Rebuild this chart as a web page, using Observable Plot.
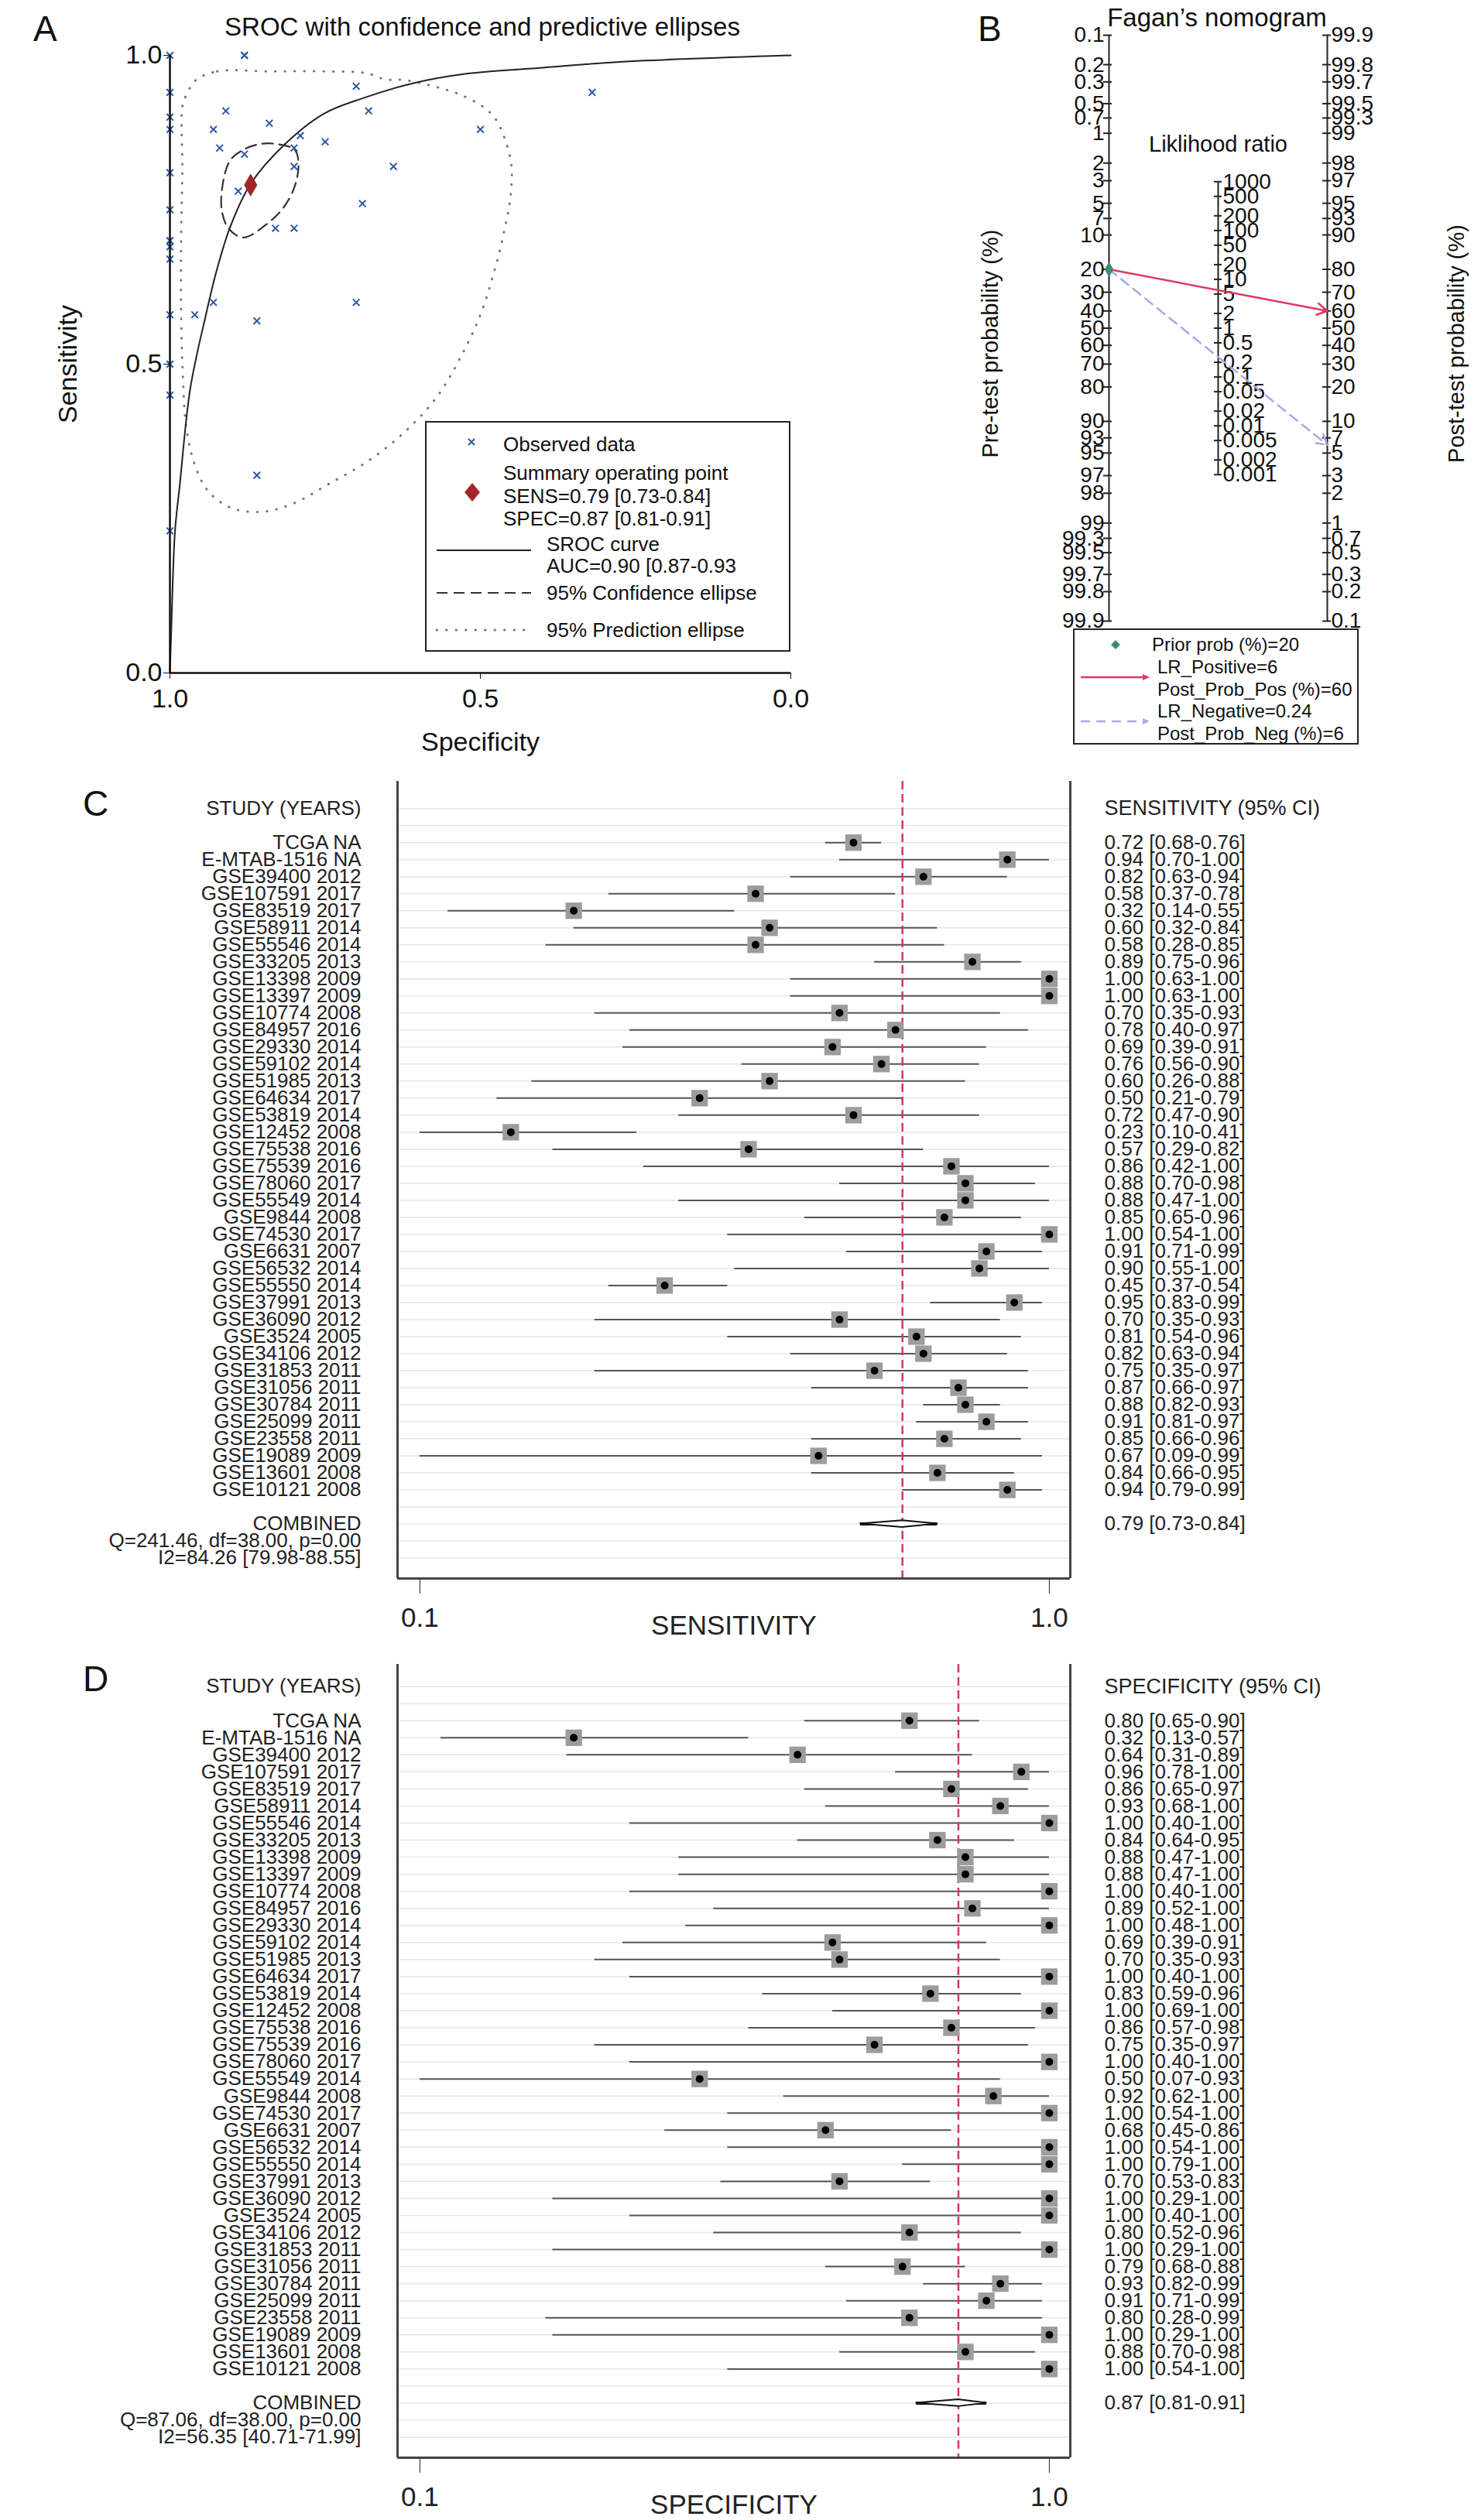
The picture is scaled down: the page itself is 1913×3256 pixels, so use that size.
<!DOCTYPE html>
<html><head><meta charset="utf-8">
<script src="https://cdn.jsdelivr.net/npm/d3@7"></script>
<script src="https://cdn.jsdelivr.net/npm/@observablehq/plot@0.6"></script>
<style>
body{margin:0;background:#fff;}
#page{position:relative;width:1913px;height:3256px;font-family:"Liberation Sans",Arial,Helvetica,sans-serif;color:#111;overflow:hidden;background:#fff}
.abs{position:absolute;white-space:nowrap;line-height:1}
svg{position:absolute;overflow:visible}
</style></head><body><div id="page"></div>
<script>
// ---------------- DATA ----------------
const studies = ["TCGA NA","E-MTAB-1516 NA","GSE39400 2012","GSE107591 2017","GSE83519 2017","GSE58911 2014","GSE55546 2014","GSE33205 2013","GSE13398 2009","GSE13397 2009","GSE10774 2008","GSE84957 2016","GSE29330 2014","GSE59102 2014","GSE51985 2013","GSE64634 2017","GSE53819 2014","GSE12452 2008","GSE75538 2016","GSE75539 2016","GSE78060 2017","GSE55549 2014","GSE9844 2008","GSE74530 2017","GSE6631 2007","GSE56532 2014","GSE55550 2014","GSE37991 2013","GSE36090 2012","GSE3524 2005","GSE34106 2012","GSE31853 2011","GSE31056 2011","GSE30784 2011","GSE25099 2011","GSE23558 2011","GSE19089 2009","GSE13601 2008","GSE10121 2008"];
const sens   = [0.72,0.94,0.82,0.58,0.32,0.60,0.58,0.89,1.00,1.00,0.70,0.78,0.69,0.76,0.60,0.50,0.72,0.23,0.57,0.86,0.88,0.88,0.85,1.00,0.91,0.90,0.45,0.95,0.70,0.81,0.82,0.75,0.87,0.88,0.91,0.85,0.67,0.84,0.94];
const sensLo = [0.68,0.70,0.63,0.37,0.14,0.32,0.28,0.75,0.63,0.63,0.35,0.40,0.39,0.56,0.26,0.21,0.47,0.10,0.29,0.42,0.70,0.47,0.65,0.54,0.71,0.55,0.37,0.83,0.35,0.54,0.63,0.35,0.66,0.82,0.81,0.66,0.09,0.66,0.79];
const sensHi = [0.76,1.00,0.94,0.78,0.55,0.84,0.85,0.96,1.00,1.00,0.93,0.97,0.91,0.90,0.88,0.79,0.90,0.41,0.82,1.00,0.98,1.00,0.96,1.00,0.99,1.00,0.54,0.99,0.93,0.96,0.94,0.97,0.97,0.93,0.97,0.96,0.99,0.95,0.99];
const spec   = [0.80,0.32,0.64,0.96,0.86,0.93,1.00,0.84,0.88,0.88,1.00,0.89,1.00,0.69,0.70,1.00,0.83,1.00,0.86,0.75,1.00,0.50,0.92,1.00,0.68,1.00,1.00,0.70,1.00,1.00,0.80,1.00,0.79,0.93,0.91,0.80,1.00,0.88,1.00];
const specLo = [0.65,0.13,0.31,0.78,0.65,0.68,0.40,0.64,0.47,0.47,0.40,0.52,0.48,0.39,0.35,0.40,0.59,0.69,0.57,0.35,0.40,0.07,0.62,0.54,0.45,0.54,0.79,0.53,0.29,0.40,0.52,0.29,0.68,0.82,0.71,0.28,0.29,0.70,0.54];
const specHi = [0.90,0.57,0.89,1.00,0.97,1.00,1.00,0.95,1.00,1.00,1.00,1.00,1.00,0.91,0.93,1.00,0.96,1.00,0.98,0.97,1.00,0.93,1.00,1.00,0.86,1.00,1.00,0.83,1.00,1.00,0.96,1.00,0.88,0.99,0.99,0.99,1.00,0.98,1.00];
const sensPooled = [0.79, 0.73, 0.84];   // estimate, lower, upper
const specPooled = [0.87, 0.81, 0.91];
const aucPooled  = [0.90, 0.87, 0.93];
const sensHet = [241.46, 38.00, 0.00, 84.26, 79.98, 88.55]; // Q, df, p, I2, lo, hi
const specHet = [87.06, 38.00, 0.00, 56.35, 40.71, 71.99];
// SROC curve (specificity, sensitivity)
const srocSpec = [1.0, 0.998, 0.992, 0.984, 0.967, 0.942, 0.926, 0.903, 0.870, 0.816, 0.753, 0.691, 0.608, 0.525, 0.40, 0.28, 0.0];
const srocSens = [0.0, 0.063, 0.227, 0.306, 0.462, 0.58, 0.647, 0.722, 0.792, 0.855, 0.905, 0.930, 0.955, 0.970, 0.980, 0.989, 1.0];
// 95% confidence ellipse
const confSpec = [0.833,0.799,0.793,0.799,0.816,0.845,0.882,0.905,0.916,0.916,0.903,0.878,0.857];
const confSens = [0.857,0.847,0.822,0.788,0.755,0.726,0.705,0.719,0.746,0.784,0.830,0.849,0.856];
// 95% prediction ellipse
const predSpec = [0.958,0.924,0.837,0.749,0.683,0.653,0.622,0.572,0.534,0.496,0.475,0.459,0.450,0.450,0.453,0.459,0.473,0.500,0.533,0.570,0.620,0.678,0.744,0.802,0.851,0.901,0.938,0.960,0.974,0.979,0.982,0.982,0.980,0.980,0.974];
const predSens = [0.960,0.974,0.974,0.974,0.971,0.961,0.960,0.949,0.937,0.917,0.896,0.860,0.822,0.788,0.759,0.728,0.667,0.580,0.509,0.447,0.392,0.345,0.306,0.274,0.261,0.267,0.294,0.337,0.400,0.478,0.580,0.697,0.815,0.917,0.935];
// Fagan nomogram
const preTicks  = [0.1,0.2,0.3,0.5,0.7,1,2,3,5,7,10,20,30,40,50,60,70,80,90,93,95,97,98,99,99.3,99.5,99.7,99.8,99.9];
const postTicks = [99.9,99.8,99.7,99.5,99.3,99,98,97,95,93,90,80,70,60,50,40,30,20,10,7,5,3,2,1,0.7,0.5,0.3,0.2,0.1];
const lrTicks   = [1000,500,200,100,50,20,10,5,2,1,0.5,0.2,0.1,0.05,0.02,0.01,0.005,0.002,0.001];
const priorProb = 20, lrPositive = 6, postProbPos = 60, lrNegative = 0.24, postProbNeg = 6;

// ---------------- HELPERS ----------------
const FONT = '"Liberation Sans", Arial, Helvetica, sans-serif';
const page = document.getElementById("page");
function put(node, left, top){ node.style.position="absolute"; node.style.left=left+"px"; node.style.top=top+"px"; page.appendChild(node); return node; }
function txt(t, x, y, size, anchor="start", extra={}){
  const d=document.createElement("div"); d.className="abs"; d.textContent=t;
  d.style.fontSize=size+"px";
  const tx = anchor==="middle"?"-50%":anchor==="end"?"-100%":"0";
  d.style.transform=`translate(${tx},-50%)`;
  Object.assign(d.style, extra);
  return put(d,x,y);
}
const f2 = d3.format(".2f");
const logit = p => Math.log(p/(1-p));

// ---------------- PANEL A ----------------
const studyPts = studies.map((s,i)=>({study:s, spec:spec[i], sens:sens[i]}));
const sroc = srocSpec.map((s,i)=>({spec:s, sens:srocSens[i]}));
const conf = confSpec.map((s,i)=>({spec:s, sens:confSens[i]}));
const pred = predSpec.map((s,i)=>({spec:s, sens:predSens[i]}));
const A = Plot.plot({
  width:1040, height:980, marginLeft:219, marginRight:19, marginTop:71, marginBottom:111,
  style:{fontFamily:FONT, fontSize:"34px", color:"#111", background:"transparent", overflow:"visible"},
  x:{domain:[1,0], ticks:[1,0.5,0], tickFormat:".1f", tickSize:8, tickPadding:12, label:"Specificity", labelAnchor:"center", labelOffset:100, labelArrow:"none"},
  y:{domain:[0,1], ticks:[0,0.5,1], tickFormat:".1f", tickSize:8, tickPadding:2, label:"Sensitivity", labelAnchor:"center", labelOffset:145, labelArrow:"none"},
  marks:[
    Plot.line(pred, {x:"spec", y:"sens", curve:"catmull-rom-closed", stroke:"#777", strokeWidth:3, strokeDasharray:"0.5,12", strokeLinecap:"round"}),
    Plot.line(sroc, {x:"spec", y:"sens", curve:"catmull-rom", stroke:"#222", strokeWidth:2}),
    Plot.line(conf, {x:"spec", y:"sens", curve:"catmull-rom-closed", stroke:"#333", strokeWidth:2.2, strokeDasharray:"14,8"}),
    Plot.dot(studyPts, {x:"spec", y:"sens", symbol:"times", r:4, stroke:"#2c5aa6", strokeWidth:2}),
    Plot.dot([specPooled], {x:d=>d[0], y:()=>sensPooled[0], symbol:"diamond", r:9, fill:"#a3262c"}),
    Plot.ruleX([1], {stroke:"#111", strokeWidth:2.5}),
    Plot.ruleY([0], {stroke:"#111", strokeWidth:2.5})
  ]
});
put(A,0,0);
txt("A", 43, 37, 46);
txt("SROC with confidence and predictive ellipses", 623, 34, 33, "middle");
// legend A
const legA = document.createElement("div");
legA.style.cssText="width:468px;height:294px;border:2px solid #222;background:#fff";
put(legA,549,544);
txt("Observed data", 650, 574, 26);
txt("Summary operating point", 650, 611, 26);
txt(`SENS=${f2(sensPooled[0])} [${f2(sensPooled[1])}-${f2(sensPooled[2])}]`, 650, 641, 26);
txt(`SPEC=${f2(specPooled[0])} [${f2(specPooled[1])}-${f2(specPooled[2])}]`, 650, 670, 26);
txt("SROC curve", 706, 703, 26);
txt(`AUC=${f2(aucPooled[0])} [${f2(aucPooled[1])}-${f2(aucPooled[2])}`, 706, 731, 26);
txt("95% Confidence ellipse", 706, 766, 26);
txt("95% Prediction ellipse", 706, 814, 26);
const swA = document.createElementNS("http://www.w3.org/2000/svg","svg");
swA.setAttribute("width","200"); swA.setAttribute("height","300");
swA.innerHTML = `
 <path d="M56,23 l8,8 M64,23 l-8,8" stroke="#2c5aa6" stroke-width="2"/>
 <path d="M61,80 l10,12 l-10,12 l-10,-12z" fill="#a3262c"/>
 <line x1="15" x2="137" y1="167" y2="167" stroke="#222" stroke-width="2"/>
 <line x1="15" x2="137" y1="222" y2="222" stroke="#333" stroke-width="2.2" stroke-dasharray="14,8"/>
 <line x1="15" x2="137" y1="270" y2="270" stroke="#777" stroke-width="3" stroke-dasharray="0.5,12" stroke-linecap="round"/>`;
put(swA,549,544);

// ---------------- PANEL B ----------------
const yPre = p => logit(p/100), yPost = p => -logit(p/100), yLR = r => -Math.log(r)/2;
const axesB = [
  {ax:"pre",  y1:yPre(d3.min(preTicks)),  y2:yPre(d3.max(preTicks))},
  {ax:"lr",   y1:yLR(d3.max(lrTicks)),    y2:yLR(d3.min(lrTicks))},
  {ax:"post", y1:yPost(d3.max(postTicks)),y2:yPost(d3.min(postTicks))}
];
const B = Plot.plot({
  width:873, height:980, marginLeft:320, marginRight:128, marginTop:45, marginBottom:178,
  style:{fontFamily:FONT, fontSize:"28px", color:"#111", background:"transparent", overflow:"visible"},
  x:{type:"point", domain:["pre","lr","post"], axis:null},
  y:{domain:[yPre(d3.min(preTicks)), yPre(d3.max(preTicks))], reverse:true, axis:null},
  marks:[
    Plot.ruleX(axesB, {x:"ax", y1:"y1", y2:"y2", stroke:"#222", strokeWidth:2}),
    Plot.ruleY(preTicks, {y:yPre, x1:()=>"pre", x2:()=>"pre", insetLeft:-7, insetRight:-4, stroke:"#222", strokeWidth:2}),
    Plot.ruleY(lrTicks, {y:yLR, x1:()=>"lr", x2:()=>"lr", insetLeft:-5, insetRight:-5, stroke:"#222", strokeWidth:2}),
    Plot.ruleY(postTicks, {y:yPost, x1:()=>"post", x2:()=>"post", insetLeft:-6, insetRight:-5, stroke:"#222", strokeWidth:2}),
    Plot.text(preTicks, {x:()=>"pre", y:yPre, text:d=>String(d), textAnchor:"end", dx:-6}),
    Plot.text(lrTicks, {x:()=>"lr", y:yLR, text:d=>String(d), textAnchor:"start", dx:6}),
    Plot.text(postTicks, {x:()=>"post", y:yPost, text:d=>String(d), textAnchor:"start", dx:5}),
    Plot.text(["Liklihood ratio"], {x:()=>"lr", frameAnchor:"top", lineAnchor:"middle", dy:141, fontSize:29}),
    Plot.text(["Pre-test probability (%)"], {frameAnchor:"left", textAnchor:"middle", lineAnchor:"middle", rotate:-90, dx:-81, dy:20, fontSize:29}),
    Plot.text(["Post-test probability (%)"], {frameAnchor:"right", textAnchor:"middle", lineAnchor:"middle", rotate:-90, dx:96, dy:20, fontSize:29}),
    Plot.arrow([postProbPos], {x1:()=>"pre", y1:()=>yPre(priorProb), x2:()=>"post", y2:yPost, stroke:"#dc3a62", strokeWidth:2.5, headLength:9}),
    Plot.arrow([postProbNeg], {x1:()=>"pre", y1:()=>yPre(priorProb), x2:()=>"post", y2:yPost, stroke:"#aaa8e4", strokeWidth:2.5, strokeDasharray:"12,8", headLength:9}),
    Plot.dot([priorProb], {x:()=>"pre", y:yPre, symbol:"diamond", r:6, fill:"#3d8d6c"})
  ]
});
put(B,1040,0);
txt("B", 1263, 37, 46);
txt("Fagan\u2019s nomogram", 1572, 22, 33, "middle");
const legB = document.createElement("div");
legB.style.cssText="width:365px;height:146px;border:2px solid #222;background:#fff";
put(legB,1386,812);
txt(`Prior prob (%)=${priorProb}`, 1488, 833, 24);
txt(`LR_Positive=${lrPositive}`, 1495, 862, 24);
txt(`Post_Prob_Pos (%)=${postProbPos}`, 1495, 891, 24);
txt(`LR_Negative=${lrNegative}`, 1495, 919, 24);
txt(`Post_Prob_Neg (%)=${postProbNeg}`, 1495, 948, 24);
const swB = document.createElementNS("http://www.w3.org/2000/svg","svg");
swB.setAttribute("width","120"); swB.setAttribute("height","160");
swB.innerHTML = `
 <path d="M55,15 l6,6 l-6,6 l-6,-6z" fill="#3d8d6c"/>
 <line x1="10" x2="92" y1="63" y2="63" stroke="#dc3a62" stroke-width="2.5"/>
 <path d="M99,63 l-9,-4 l0,8z" fill="#dc3a62"/>
 <line x1="10" x2="92" y1="120" y2="120" stroke="#aaa8e4" stroke-width="2.5" stroke-dasharray="12,8"/>
 <path d="M99,120 l-9,-4 l0,8z" fill="#aaa8e4"/>`;
put(swB,1386,812);

// ---------------- FOREST PLOTS ----------------
function forest({est, lo, hi, pooled, het, header, xlabel, top, height, marginTop, marginBottom, yTop}){
  const rows = studies.map((s,i)=>({study:s, row:i+1, est:est[i], lo:lo[i], hi:hi[i]}));
  const headerRow = -1, combRow = studies.length + 2;
  const yDom = [yTop, combRow + 3.2];
  const xTicks = [0.1, 1.0];
  const xDom = [0.068, 1.03];
  const gridRows = d3.range(headerRow, combRow + 3);
  const diamond = [
    {y:combRow-0.2, x1:pooled[0], x2:pooled[0]},
    {y:combRow, x1:pooled[1], x2:pooled[2]},
    {y:combRow+0.2, x1:pooled[0], x2:pooled[0]}];
  const side = [
    {row:combRow, t:"COMBINED"},
    {row:combRow+1, t:`Q=${f2(het[0])}, df=${f2(het[1])}, p=${f2(het[2])}`},
    {row:combRow+2, t:`I2=${f2(het[3])} [${f2(het[4])}-${f2(het[5])}]`}];
  const p = Plot.plot({
    width:1913, height, marginLeft:513, marginRight:531, marginTop, marginBottom,
    style:{fontFamily:FONT, fontSize:"35px", color:"#222", background:"transparent", overflow:"visible"},
    x:{domain:xDom, ticks:xTicks, tickFormat:".1f", tickSize:20, tickPadding:18, label:xlabel, labelAnchor:"center", labelOffset:72, labelArrow:"none"},
    y:{domain:yDom, reverse:true, axis:null},
    marks:[
      Plot.ruleY(gridRows, {stroke:"#e6e6e6", strokeWidth:1.5}),
      Plot.ruleY(rows, {y:"row", x1:d=>Math.max(d.lo, xTicks[0]), x2:"hi", stroke:"#555", strokeWidth:2}),
      Plot.ruleX([pooled[0]], {stroke:"#d23a5a", strokeWidth:2.5, strokeDasharray:"11,6"}),
      Plot.dot(rows, {x:"est", y:"row", symbol:"square", r:12, fill:"#9c9c9c"}),
      Plot.dot(rows, {x:"est", y:"row", r:5, fill:"#000"}),
      Plot.ruleY([combRow], {x1:()=>pooled[1], x2:()=>pooled[2], stroke:"#111", strokeWidth:4}),
      Plot.areaX(diamond, {y:"y", x1:"x1", x2:"x2", fill:"#fff", stroke:"#111", strokeWidth:2}),
      Plot.ruleX(xDom, {stroke:"#444", strokeWidth:3}),
      Plot.ruleY([yDom[1]], {stroke:"#444", strokeWidth:3}),
      Plot.text(rows, {y:"row", text:"study", frameAnchor:"left", textAnchor:"end", dx:-47, fontSize:26}),
      Plot.text(side, {y:"row", text:"t", frameAnchor:"left", textAnchor:"end", dx:-47, fontSize:26}),
      Plot.text(["STUDY (YEARS)"], {y:()=>headerRow, frameAnchor:"left", textAnchor:"end", dx:-47, fontSize:26}),
      Plot.text(rows, {y:"row", text:d=>`${f2(d.est)} [${f2(d.lo)}-${f2(d.hi)}]`, frameAnchor:"right", textAnchor:"start", dx:44, fontSize:26}),
      Plot.text([pooled], {y:()=>combRow, text:d=>`${f2(d[0])} [${f2(d[1])}-${f2(d[2])}]`, frameAnchor:"right", textAnchor:"start", dx:44, fontSize:26}),
      Plot.text([header], {y:()=>headerRow, frameAnchor:"right", textAnchor:"start", dx:44, fontSize:27})
    ]
  });
  put(p, 0, top);
}
forest({est:sens, lo:sensLo, hi:sensHi, pooled:sensPooled, het:sensHet, header:"SENSITIVITY (95% CI)", xlabel:"SENSITIVITY", top:985, height:1140, marginTop:24, marginBottom:86, yTop:-2.6});
forest({est:spec, lo:specLo, hi:specHi, pooled:specPooled, het:specHet, header:"SPECIFICITY (95% CI)", xlabel:"SPECIFICITY", top:2130, height:1126, marginTop:20, marginBottom:81, yTop:-2.3});
txt("C", 107, 1038, 46);
txt("D", 107, 2169, 46);
</script></body></html>
